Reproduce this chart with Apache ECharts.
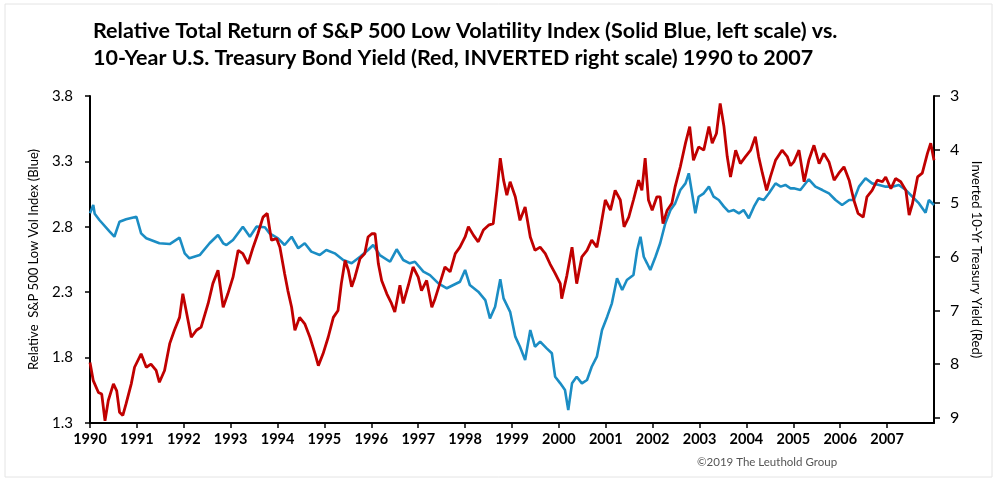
<!DOCTYPE html>
<html>
<head>
<meta charset="utf-8">
<script src="https://cdn.jsdelivr.net/npm/echarts@6/dist/echarts.min.js"></script>
<style>
  html, body { margin: 0; padding: 0; background: #fff; }
  #chart { width: 1000px; height: 485px; }
</style>
</head>
<body>
<div id="chart"></div>
<script>
// values, [decimal year, value]
var lowVolIndex = [
  [1990.00, 2.903], [1990.07, 2.967], [1990.10, 2.900], [1990.20, 2.852], [1990.42, 2.763],
  [1990.52, 2.724], [1990.63, 2.839], [1990.77, 2.857], [1990.99, 2.877], [1991.09, 2.750],
  [1991.20, 2.712], [1991.48, 2.674], [1991.70, 2.668], [1991.91, 2.717], [1992.02, 2.597],
  [1992.12, 2.559], [1992.34, 2.584], [1992.55, 2.674], [1992.73, 2.737], [1992.84, 2.674],
  [1992.91, 2.661], [1993.05, 2.699], [1993.26, 2.801], [1993.41, 2.724], [1993.55, 2.801],
  [1993.73, 2.796], [1993.83, 2.750], [1994.01, 2.712], [1994.15, 2.661], [1994.30, 2.724],
  [1994.44, 2.636], [1994.58, 2.674], [1994.72, 2.610], [1994.90, 2.584], [1995.04, 2.623],
  [1995.22, 2.597], [1995.40, 2.546], [1995.58, 2.521], [1995.76, 2.571], [1995.93, 2.623],
  [1996.04, 2.661], [1996.18, 2.584], [1996.40, 2.533], [1996.54, 2.628], [1996.68, 2.546],
  [1996.82, 2.521], [1996.93, 2.533], [1997.11, 2.457], [1997.25, 2.431], [1997.43, 2.368],
  [1997.61, 2.330], [1997.75, 2.355], [1997.89, 2.380], [1998.00, 2.470], [1998.10, 2.355],
  [1998.28, 2.304], [1998.43, 2.240], [1998.53, 2.100], [1998.64, 2.189], [1998.75, 2.400],
  [1998.82, 2.253], [1998.96, 2.150], [1999.07, 1.960], [1999.17, 1.883], [1999.28, 1.782],
  [1999.39, 2.011], [1999.49, 1.883], [1999.60, 1.922], [1999.74, 1.871], [1999.85, 1.833],
  [1999.92, 1.654], [2000.03, 1.603], [2000.13, 1.552], [2000.20, 1.399], [2000.28, 1.603],
  [2000.38, 1.654], [2000.49, 1.603], [2000.60, 1.629], [2000.70, 1.730], [2000.81, 1.807],
  [2000.92, 2.011], [2001.03, 2.113], [2001.13, 2.215], [2001.24, 2.406], [2001.35, 2.317],
  [2001.45, 2.393], [2001.59, 2.431], [2001.67, 2.623], [2001.74, 2.724], [2001.81, 2.571],
  [2001.88, 2.521], [2001.95, 2.470], [2002.06, 2.571], [2002.16, 2.674], [2002.27, 2.827],
  [2002.38, 2.928], [2002.48, 2.979], [2002.59, 3.081], [2002.70, 3.132], [2002.77, 3.209],
  [2002.84, 3.056], [2002.91, 2.903], [2002.98, 3.030], [2003.09, 3.056], [2003.20, 3.107],
  [2003.30, 3.030], [2003.41, 3.005], [2003.52, 2.954], [2003.62, 2.916], [2003.73, 2.928],
  [2003.84, 2.903], [2003.94, 2.928], [2004.05, 2.865], [2004.16, 2.954], [2004.26, 3.018],
  [2004.37, 3.005], [2004.48, 3.056], [2004.62, 3.132], [2004.73, 3.107], [2004.83, 3.120],
  [2004.94, 3.094], [2005.01, 3.094], [2005.15, 3.081], [2005.33, 3.163], [2005.47, 3.107],
  [2005.62, 3.081], [2005.76, 3.056], [2005.90, 3.005], [2006.04, 2.967], [2006.19, 3.005],
  [2006.29, 3.005], [2006.40, 3.107], [2006.54, 3.171], [2006.68, 3.132], [2006.83, 3.120],
  [2006.97, 3.107], [2007.11, 3.107], [2007.25, 3.120], [2007.40, 3.081], [2007.54, 3.030],
  [2007.68, 2.979], [2007.82, 2.908], [2007.89, 3.005], [2008.00, 2.967]
];

var treasuryYield = [
  [1990.00, 7.97], [1990.07, 8.31], [1990.18, 8.53], [1990.25, 8.56], [1990.32, 9.06],
  [1990.39, 8.68], [1990.50, 8.37], [1990.57, 8.50], [1990.63, 8.90], [1990.70, 8.96],
  [1990.77, 8.74], [1990.88, 8.37], [1990.95, 8.06], [1991.09, 7.81], [1991.20, 8.06],
  [1991.30, 8.00], [1991.41, 8.12], [1991.48, 8.34], [1991.59, 8.12], [1991.70, 7.62],
  [1991.80, 7.37], [1991.91, 7.13], [1991.98, 6.69], [1992.05, 7.00], [1992.16, 7.50],
  [1992.27, 7.37], [1992.37, 7.31], [1992.52, 6.87], [1992.62, 6.50], [1992.73, 6.25],
  [1992.84, 6.94], [1992.94, 6.69], [1993.05, 6.38], [1993.16, 5.88], [1993.26, 5.94],
  [1993.37, 6.13], [1993.48, 5.82], [1993.58, 5.57], [1993.69, 5.26], [1993.78, 5.19],
  [1993.87, 5.69], [1993.98, 5.66], [1994.05, 5.82], [1994.15, 6.31], [1994.22, 6.63],
  [1994.30, 6.94], [1994.37, 7.37], [1994.47, 7.13], [1994.58, 7.25], [1994.69, 7.50],
  [1994.80, 7.81], [1994.87, 8.03], [1994.97, 7.81], [1995.08, 7.50], [1995.19, 7.13],
  [1995.29, 7.00], [1995.36, 6.50], [1995.44, 6.07], [1995.51, 6.25], [1995.58, 6.56],
  [1995.65, 6.38], [1995.76, 6.03], [1995.86, 5.94], [1995.93, 5.63], [1996.01, 5.57],
  [1996.08, 5.57], [1996.15, 6.13], [1996.22, 6.44], [1996.33, 6.69], [1996.43, 6.87],
  [1996.50, 7.03], [1996.61, 6.53], [1996.68, 6.87], [1996.79, 6.53], [1996.89, 6.19],
  [1997.00, 6.38], [1997.07, 6.63], [1997.18, 6.44], [1997.29, 6.94], [1997.36, 6.78],
  [1997.46, 6.50], [1997.57, 6.19], [1997.68, 6.28], [1997.79, 5.94], [1997.89, 5.82],
  [1998.00, 5.63], [1998.07, 5.44], [1998.18, 5.60], [1998.28, 5.72], [1998.39, 5.50],
  [1998.50, 5.41], [1998.60, 5.38], [1998.68, 4.76], [1998.75, 4.16], [1998.82, 4.57],
  [1998.89, 4.85], [1998.96, 4.60], [1999.07, 4.88], [1999.17, 5.32], [1999.28, 5.07],
  [1999.39, 5.63], [1999.49, 5.88], [1999.60, 5.82], [1999.71, 5.94], [1999.81, 6.13],
  [1999.92, 6.31], [2000.03, 6.50], [2000.06, 6.78], [2000.17, 6.35], [2000.28, 5.82],
  [2000.38, 6.50], [2000.49, 6.00], [2000.60, 5.88], [2000.70, 5.69], [2000.81, 5.82],
  [2000.88, 5.50], [2000.99, 4.94], [2001.10, 5.13], [2001.20, 4.76], [2001.31, 4.94],
  [2001.39, 5.44], [2001.49, 5.26], [2001.59, 4.94], [2001.70, 4.57], [2001.77, 4.76],
  [2001.84, 4.16], [2001.91, 4.94], [2001.99, 5.13], [2002.09, 4.88], [2002.16, 4.88],
  [2002.22, 5.38], [2002.31, 5.13], [2002.41, 5.00], [2002.48, 4.69], [2002.59, 4.32],
  [2002.70, 3.88], [2002.79, 3.57], [2002.87, 4.20], [2002.98, 3.95], [2003.09, 4.01],
  [2003.20, 3.57], [2003.27, 3.88], [2003.36, 3.70], [2003.44, 3.14], [2003.52, 3.57],
  [2003.59, 4.13], [2003.66, 4.51], [2003.77, 4.01], [2003.87, 4.26], [2003.98, 4.13],
  [2004.09, 4.01], [2004.19, 3.76], [2004.26, 4.13], [2004.34, 4.44], [2004.43, 4.76],
  [2004.51, 4.51], [2004.62, 4.20], [2004.76, 4.01], [2004.87, 4.13], [2004.94, 4.30],
  [2005.01, 4.23], [2005.12, 4.01], [2005.23, 4.60], [2005.33, 4.20], [2005.44, 3.92],
  [2005.55, 4.26], [2005.65, 4.07], [2005.76, 4.23], [2005.87, 4.57], [2005.97, 4.44],
  [2006.08, 4.32], [2006.19, 4.57], [2006.29, 4.94], [2006.38, 5.19], [2006.49, 5.26],
  [2006.57, 4.88], [2006.68, 4.76], [2006.79, 4.57], [2006.90, 4.60], [2006.97, 4.51],
  [2007.08, 4.73], [2007.18, 4.54], [2007.29, 4.60], [2007.40, 4.76], [2007.47, 5.22],
  [2007.54, 5.01], [2007.65, 4.51], [2007.75, 4.44], [2007.86, 4.07], [2007.93, 3.88],
  [2008.00, 4.20]
];

var yieldTicks = [3, 4, 5, 6, 7, 8, 9];

var chart = echarts.init(document.getElementById('chart'));

chart.setOption({
  animation: false,
  textStyle: { fontFamily: 'Lato' },
  title: {
    text: 'Relative Total Return of S&P 500 Low Volatility Index (Solid Blue, left scale) vs.\n' +
          '10-Year U.S. Treasury Bond Yield (Red, INVERTED right scale) 1990 to 2007',
    left: 88,
    top: 13,
    textStyle: { fontSize: 21.5, fontWeight: 'bold', color: '#000', lineHeight: 27 }
  },
  graphic: [
    {
      type: 'rect',
      shape: { x: 5, y: 4, width: 987, height: 473 },
      style: { fill: 'none', stroke: '#e4e4e4', lineWidth: 1 },
      silent: true
    },
    {
      type: 'text',
      x: 697,
      y: 462,
      style: {
        text: '©2019 The Leuthold Group',
        font: '11.5px Lato',
        fill: '#555',
        textVerticalAlign: 'middle'
      }
    }
  ],
  grid: { left: 90, right: 66, top: 96, bottom: 62 },
  xAxis: {
    type: 'value',
    min: 1990,
    max: 2008,
    interval: 1,
    splitLine: { show: false },
    axisLine: { lineStyle: { color: '#000', width: 2 } },
    axisTick: { length: 5, lineStyle: { color: '#000', width: 1.5 } },
    axisLabel: {
      color: '#000',
      fontSize: 14.5,
      fontWeight: 'bold',
      margin: 9,
      showMaxLabel: false,
      formatter: function (v) { return v < 2008 ? String(v) : ''; }
    }
  },
  yAxis: [
    {
      type: 'value',
      min: 1.3,
      max: 3.8,
      interval: 0.5,
      name: 'Relative  S&P 500 Low Vol Index (Blue)',
      nameLocation: 'middle',
      nameGap: 50,
      nameTextStyle: { fontSize: 13, color: '#000' },
      splitLine: { show: false },
      axisLine: { show: true, lineStyle: { color: '#000', width: 2 } },
      axisTick: { show: true, length: 5, lineStyle: { color: '#000', width: 1.5 } },
      axisLabel: {
        color: '#000',
        fontSize: 15,
        margin: 17,
        formatter: function (v) { return v.toFixed(1); }
      }
    },
    {
      type: 'value',
      position: 'right',
      inverse: true,
      min: 3,
      max: 9.1,
      interval: 1,
      name: 'Inverted 10-Yr Treasury Yield (Red)',
      nameLocation: 'middle',
      nameRotate: -90,
      nameGap: 33,
      nameTextStyle: { fontSize: 13, color: '#000' },
      splitLine: { show: false },
      axisLine: { show: true, lineStyle: { color: '#000', width: 2 } },
      axisTick: { show: true, length: 6, customValues: yieldTicks, lineStyle: { color: '#000', width: 1.5 } },
      axisLabel: {
        color: '#000',
        fontSize: 16,
        margin: 16,
        customValues: yieldTicks,
        formatter: function (v) { return String(Math.round(v)); }
      }
    }
  ],
  series: [
    {
      name: 'Low Vol',
      type: 'line',
      yAxisIndex: 0,
      data: lowVolIndex,
      showSymbol: false,
      lineStyle: { color: '#1b8dc4', width: 2.6 },
      itemStyle: { color: '#1b8dc4' }
    },
    {
      name: '10-Yr Yield',
      type: 'line',
      yAxisIndex: 1,
      data: treasuryYield,
      showSymbol: false,
      lineStyle: { color: '#c00000', width: 2.8 },
      itemStyle: { color: '#c00000' }
    }
  ]
});
</script>
</body>
</html>
